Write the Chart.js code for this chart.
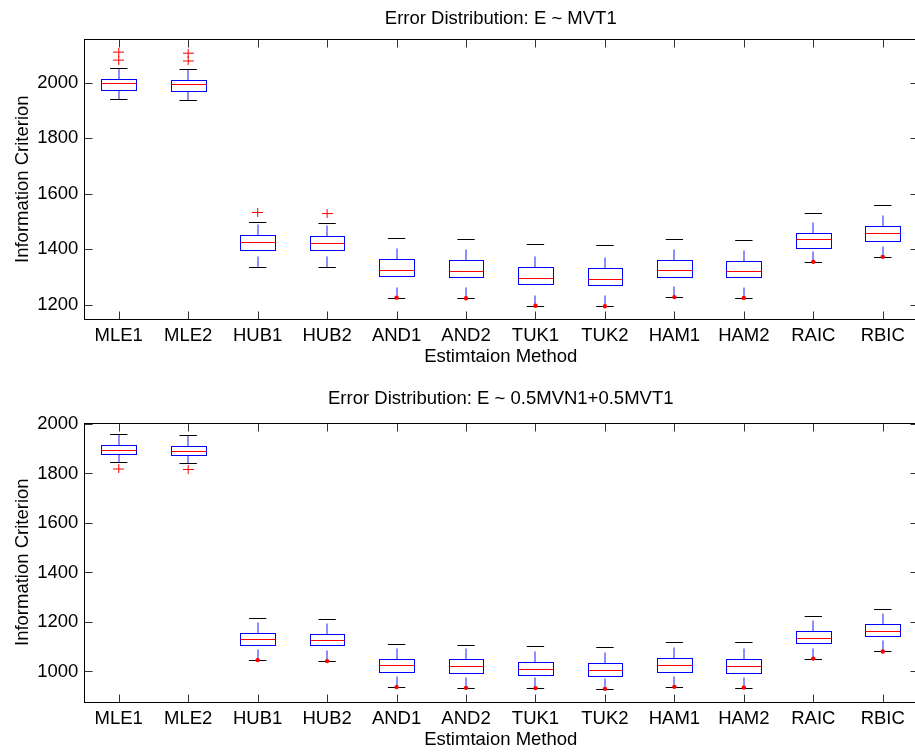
<!DOCTYPE html>
<html>
<head>
<meta charset="utf-8">
<title>Information Criterion by Estimation Method</title>
<script src="https://cdn.jsdelivr.net/npm/chart.js@4.4.0/dist/chart.umd.min.js"></script>
<style>
  html, body { margin: 0; padding: 0; background: #fff; overflow: hidden; width: 915px; height: 755px; }
  canvas { position: absolute; left: 0; }
  #panelTop { top: 0; }
  #panelBottom { top: 378px; }
</style>
</head>
<body>
<canvas id="panelTop" width="924" height="378"></canvas>
<canvas id="panelBottom" width="924" height="377"></canvas>
<script>
// Estimation methods along the x axis
const methods = ['MLE1', 'MLE2', 'HUB1', 'HUB2', 'AND1', 'AND2', 'TUK1', 'TUK2', 'HAM1', 'HAM2', 'RAIC', 'RBIC'];

// Panel 1: errors ~ MVT1 (box-plot summaries per method)
const mvtLow      = [1940, 1938, 1337, 1335, 1225, 1223, 1196, 1194, 1227, 1224, 1354, 1372];
const mvtQ1       = [1973, 1970, 1398, 1395, 1303, 1301, 1275, 1272, 1301, 1299, 1403, 1430];
const mvtMedian   = [1999, 1995, 1425, 1421, 1325, 1322, 1295, 1293, 1324, 1320, 1437, 1457];
const mvtQ3       = [2012, 2009, 1449, 1446, 1364, 1360, 1335, 1331, 1360, 1356, 1457, 1482];
const mvtHigh     = [2053, 2050, 1497, 1493, 1439, 1436, 1418, 1415, 1437, 1433, 1530, 1560];
const mvtOutliers = [[2081, 2110], [2078, 2106], [1532], [1528], [], [], [], [], [], [], [], []];
const mvtDots     = [null, null, null, null, 1225, 1223, 1196, 1194, 1227, 1224, 1354, 1372];
const mvtTicks    = [1200, 1400, 1600, 1800, 2000];

// Panel 2: errors ~ 0.5 MVN1 + 0.5 MVT1
const mixLow      = [1847, 1844, 1046, 1042, 937, 934, 933, 930, 938, 935, 1052, 1081];
const mixQ1       = [1879, 1876, 1108, 1107, 996, 994, 984, 981, 999, 994, 1115, 1144];
const mixMedian   = [1895, 1892, 1130, 1127, 1027, 1023, 1010, 1006, 1028, 1024, 1137, 1165];
const mixQ3       = [1913, 1909, 1156, 1153, 1050, 1049, 1038, 1034, 1053, 1050, 1164, 1192];
const mixHigh     = [1960, 1956, 1218, 1214, 1112, 1108, 1101, 1099, 1120, 1118, 1223, 1253];
const mixOutliers = [[1818], [1816], [], [], [], [], [], [], [], [], [], []];
const mixDots     = [null, null, 1046, 1042, 937, 934, 933, 930, 938, 935, 1052, 1081];
const mixTicks    = [1000, 1200, 1400, 1600, 1800, 2000];

const FONT = 'Liberation Sans, Arial, Helvetica, sans-serif';
const FS = 18.5;
Chart.defaults.font.family = FONT;
Chart.defaults.font.size = FS;
Chart.defaults.color = '#000';

// red "+" marker for outliers
const plus = document.createElement('canvas');
plus.width = 11; plus.height = 9;
(function () {
  const c = plus.getContext('2d');
  c.strokeStyle = '#ff0000';
  c.lineWidth = 1;
  c.beginPath();
  c.moveTo(0, 4.5); c.lineTo(11, 4.5);
  c.moveTo(5.5, 0); c.lineTo(5.5, 9);
  c.stroke();
})();

const crisp = v => Math.round(v) + 0.5;

// boxes, whiskers, caps and medians drawn through the chart's scales
function boxPlugin(stats) {
  return {
    id: 'boxes',
    beforeDatasetsDraw(chart) {
      const { ctx, scales: { x, y } } = chart;
      const seg = (x1, y1, x2, y2) => { ctx.beginPath(); ctx.moveTo(x1, y1); ctx.lineTo(x2, y2); ctx.stroke(); };
      ctx.save();
      stats.q1.forEach((q1, i) => {
        const p = i + 1;
        const xc = Math.round(x.getPixelForValue(p));
        const xl = crisp(x.getPixelForValue(p - 0.25));
        const xr = crisp(x.getPixelForValue(p + 0.25));
        const cl = x.getPixelForValue(p - 0.125);
        const cr = x.getPixelForValue(p + 0.125);
        const yq1 = crisp(y.getPixelForValue(q1));
        const yq3 = crisp(y.getPixelForValue(stats.q3[i]));
        const ymd = crisp(y.getPixelForValue(stats.med[i]));
        const ylo = crisp(y.getPixelForValue(stats.low[i]));
        const yhi = crisp(y.getPixelForValue(stats.high[i]));

        // dashed whiskers, each starting from its lower end
        ctx.strokeStyle = 'rgba(0,0,255,0.6)';
        ctx.lineWidth = 1.5;
        ctx.setLineDash([11, 40]);
        seg(xc, yq3, xc, yhi);
        seg(xc, ylo, xc, yq1);
        ctx.setLineDash([]);

        // whisker caps
        ctx.lineWidth = 1;
        ctx.strokeStyle = '#000';
        seg(cl, yhi, cr, yhi);
        seg(cl, ylo, cr, ylo);

        // box
        ctx.strokeStyle = '#0000ff';
        ctx.strokeRect(xl, yq3, xr - xl, yq1 - yq3);

        // median
        ctx.strokeStyle = '#ff0000';
        seg(xl, ymd, xr, ymd);
      });
      ctx.restore();
    }
  };
}

// axes frame with inward tick marks
const framePlugin = {
  id: 'frame',
  afterDraw(chart) {
    const { ctx, chartArea: a, scales: { x, y } } = chart;
    const L = crisp(a.left), R = crisp(a.right), T = crisp(a.top), B = crisp(a.bottom);
    ctx.save();
    ctx.lineWidth = 1;
    ctx.strokeStyle = '#333';
    ctx.beginPath();
    x.ticks.forEach(t => {
      const px = crisp(x.getPixelForValue(t.value));
      ctx.moveTo(px, B); ctx.lineTo(px, B - 8);
      ctx.moveTo(px, T); ctx.lineTo(px, T + 8);
    });
    y.ticks.forEach(t => {
      const py = crisp(y.getPixelForValue(t.value));
      ctx.moveTo(L, py); ctx.lineTo(L + 8, py);
      ctx.moveTo(R, py); ctx.lineTo(R - 8, py);
    });
    ctx.stroke();
    ctx.strokeStyle = '#000';
    ctx.strokeRect(L, T, R - L, B - T);
    ctx.restore();
  }
};

function makePanel(id, cfg) {
  const outlierPts = [];
  cfg.outliers.forEach((list, i) => list.forEach(v => outlierPts.push({ x: i + 1, y: v })));
  const dotPts = [];
  cfg.dots.forEach((v, i) => { if (v !== null) dotPts.push({ x: i + 1, y: v }); });

  return new Chart(document.getElementById(id), {
    type: 'scatter',
    data: {
      datasets: [
        { label: 'Outliers', data: outlierPts, pointStyle: plus, pointRadius: 5.5 },
        { label: 'Lower marks', data: dotPts, pointStyle: 'circle', pointRadius: 2.2,
          backgroundColor: '#ff0000', borderWidth: 0 }
      ]
    },
    options: {
      responsive: false,
      animation: false,
      events: [],
      layout: { padding: 0 },
      plugins: {
        legend: { display: false },
        tooltip: { enabled: false },
        title: {
          display: true, text: cfg.title, fullSize: false, color: '#000',
          font: { family: FONT, size: FS, weight: 'normal' },
          padding: { top: cfg.titleTop, bottom: cfg.titleBottom }
        }
      },
      scales: {
        x: {
          type: 'linear', min: 0.5, max: 12.5,
          grid: { display: false, drawTicks: false },
          border: { display: false },
          afterBuildTicks: s => { s.ticks = methods.map((m, i) => ({ value: i + 1 })); },
          afterFit: s => { s.height = cfg.xHeight; },
          ticks: { autoSkip: false, maxRotation: 0, minRotation: 0, padding: 5.9, color: '#000',
                   callback: (v, i) => methods[i] },
          title: { display: true, text: 'Estimtaion Method', color: '#000',
                   font: { family: FONT, size: FS }, padding: { top: 0, bottom: cfg.xTitleBottom } }
        },
        y: {
          type: 'linear', min: cfg.yMin, max: cfg.yMax,
          grid: { display: false, drawTicks: false },
          border: { display: false },
          afterBuildTicks: s => { s.ticks = cfg.ticks.map(v => ({ value: v })); },
          afterFit: s => { s.width = 84; },
          ticks: { padding: 5.7, color: '#000', callback: v => String(v) },
          title: { display: true, text: 'Information Criterion', color: '#000',
                   font: { family: FONT, size: FS }, padding: { top: 11.9, bottom: 0 } }
        }
      }
    },
    plugins: [boxPlugin(cfg.stats), framePlugin]
  });
}

makePanel('panelTop', {
  title: 'Error Distribution: E ~ MVT1',
  titleTop: 7.9, titleBottom: 9.2,
  xHeight: 59, xTitleBottom: 9.9,
  yMin: 1148, yMax: 2156, ticks: mvtTicks,
  stats: { low: mvtLow, q1: mvtQ1, med: mvtMedian, q3: mvtQ3, high: mvtHigh },
  outliers: mvtOutliers, dots: mvtDots
});

makePanel('panelBottom', {
  title: 'Error Distribution: E ~ 0.5MVN1+0.5MVT1',
  titleTop: 10.2, titleBottom: 12.3,
  xHeight: 53.3, xTitleBottom: 4.2,
  yMin: 878, yMax: 2005, ticks: mixTicks,
  stats: { low: mixLow, q1: mixQ1, med: mixMedian, q3: mixQ3, high: mixHigh },
  outliers: mixOutliers, dots: mixDots
});
</script>
</body>
</html>
